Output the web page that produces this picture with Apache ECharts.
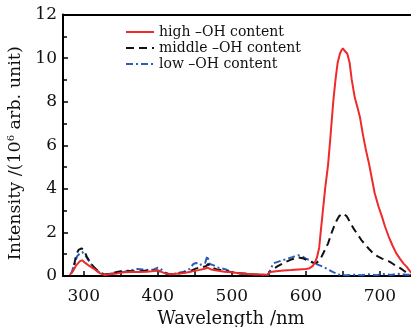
<!DOCTYPE html>
<html>
<head>
<meta charset="utf-8">
<script src="https://cdn.jsdelivr.net/npm/echarts@6/dist/echarts.min.js"></script>
<style>html,body{margin:0;padding:0;background:#fff}#c{width:411px;height:327px}</style>
</head>
<body>
<div id="c"></div>
<script>
const seriesNames = ['high \u2013OH content', 'middle \u2013OH content', 'low \u2013OH content'];
const xTickLabels = [300, 400, 500, 600, 700];
const xTickMarks = [300, 350, 400, 450, 500, 550, 600, 650, 700];
const highOH = [[281,0.05],[285,0.2],[290,0.5],[295,0.68],[298,0.72],[302,0.6],[308,0.45],[315,0.3],[322,0.12],[328,0.05],[335,0.08],[345,0.12],[355,0.17],[365,0.18],[375,0.18],[385,0.2],[392,0.22],[398,0.27],[404,0.2],[410,0.12],[416,0.08],[425,0.1],[435,0.14],[445,0.2],[455,0.27],[462,0.32],[467,0.38],[472,0.3],[480,0.25],[490,0.2],[500,0.17],[510,0.13],[520,0.1],[530,0.08],[540,0.07],[548,0.06],[552,0.18],[560,0.22],[570,0.25],[580,0.27],[590,0.3],[600,0.32],[605,0.36],[609,0.45],[612,0.6],[615,0.85],[618,1.3],[620,2.0],[623,3.0],[626,4.0],[630,5.1],[633,6.3],[637,8.0],[640,9.0],[643,9.8],[646,10.2],[648,10.35],[650,10.45],[652,10.35],[654,10.4],[656,10.2],[659,9.8],[662,9.0],[666,8.2],[670,7.7],[673,7.3],[677,6.5],[681,5.8],[685,5.2],[689,4.5],[693,3.8],[698,3.2],[703,2.7],[707,2.26],[712,1.8],[717,1.4],[722,1.05],[727,0.8],[732,0.57],[736,0.43],[740,0.25],[742,0.15]];
const middleOH = [[287,0.5],[290,1.0],[293,1.2],[297,1.27],[300,1.2],[304,0.9],[308,0.65],[314,0.4],[320,0.2],[327,0.07],[335,0.1],[345,0.18],[355,0.25],[365,0.22],[375,0.22],[385,0.25],[395,0.25],[400,0.25],[408,0.15],[415,0.08],[425,0.1],[435,0.15],[445,0.25],[452,0.35],[460,0.4],[465,0.45],[468,0.55],[472,0.4],[480,0.3],[490,0.25],[500,0.17],[510,0.13],[520,0.1],[530,0.07],[540,0.05],[548,0.05],[555,0.3],[562,0.45],[570,0.6],[580,0.75],[590,0.85],[597,0.8],[603,0.7],[610,0.6],[615,0.62],[620,0.8],[625,1.15],[630,1.5],[635,2.0],[640,2.45],[645,2.75],[650,2.87],[655,2.75],[660,2.45],[665,2.15],[670,1.9],[675,1.65],[680,1.45],[685,1.25],[691,1.04],[697,0.9],[703,0.8],[708,0.72],[713,0.66],[718,0.55],[723,0.45],[728,0.35],[732,0.25],[736,0.15],[740,0.08],[742,0.05]];
const lowOH = [[283,0.1],[287,0.5],[291,0.9],[295,1.05],[298,1.1],[301,1.0],[305,0.8],[310,0.55],[316,0.3],[322,0.15],[328,0.07],[335,0.1],[345,0.15],[355,0.2],[365,0.28],[372,0.32],[380,0.3],[388,0.27],[395,0.3],[400,0.38],[405,0.3],[410,0.15],[416,0.08],[425,0.12],[435,0.2],[442,0.3],[448,0.55],[452,0.6],[456,0.5],[460,0.55],[464,0.6],[467,0.92],[470,0.55],[475,0.5],[480,0.4],[486,0.35],[492,0.3],[498,0.2],[505,0.15],[515,0.1],[525,0.08],[535,0.06],[545,0.05],[549,0.05],[553,0.35],[556,0.58],[562,0.65],[569,0.73],[576,0.8],[583,0.88],[590,0.95],[595,0.9],[600,0.8],[605,0.73],[610,0.62],[616,0.52],[623,0.43],[630,0.3],[637,0.18],[642,0.1],[646,0.05],[655,0.03],[665,0.06],[675,0.03],[685,0.08],[695,0.04],[705,0.09],[715,0.05],[725,0.1],[735,0.06],[742,0.05]];

const FONT = 'DejaVu Serif';
const chart = echarts.init(document.getElementById('c'), null, {renderer: 'canvas'});
chart.setOption({
  animation: false,
  backgroundColor: '#fff',
  grid: {left: 63, top: 14.5, right: 0, bottom: 51, show: false, containLabel: false, outerBoundsMode: 'none'},
  legend: {
    data: seriesNames, orient: 'vertical', left: 125, top: 25, padding: 0,
    itemWidth: 28, itemHeight: 14, itemGap: 2,
    itemStyle: {opacity: 0},
    textStyle: {fontFamily: FONT, fontSize: 14, color: '#111'}
  },
  xAxis: [{
    type: 'value', min: 272, max: 742,
    axisLine: {show: true, lineStyle: {color: '#000', width: 2}},
    axisTick: {show: true, inside: true, length: 5, lineStyle: {color: '#000', width: 1.5}, customValues: xTickMarks},
    axisLabel: {fontFamily: FONT, fontSize: 17, color: '#111', margin: 12, customValues: xTickLabels},
    splitLine: {show: false},
    name: 'Wavelength /nm', nameLocation: 'middle', nameGap: 33,
    nameTextStyle: {fontFamily: FONT, fontSize: 18, color: '#111', padding: [0, 12, 0, 0]}
  }, {
    type: 'value', position: 'top', min: 272, max: 742,
    axisLine: {show: true, onZero: false, lineStyle: {color: '#000', width: 2}},
    axisTick: {show: false}, axisLabel: {show: false}, splitLine: {show: false}
  }],
  yAxis: {
    type: 'value', min: 0, max: 12, interval: 2,
    axisLine: {show: true, lineStyle: {color: '#000', width: 2}},
    axisTick: {show: true, inside: true, length: 5, lineStyle: {color: '#000', width: 1.5}},
    minorTick: {show: true, splitNumber: 2, length: 4, lineStyle: {color: '#000', width: 1.5}},
    axisLabel: {fontFamily: FONT, fontSize: 17, color: '#111', margin: 6},
    splitLine: {show: false},
    name: 'Intensity /(10{sup|6} arb. unit)', nameLocation: 'middle', nameGap: 38,
    nameTextStyle: {fontFamily: FONT, fontSize: 17.5, color: '#111', padding: [0, 16, 0, 0],
      rich: {sup: {fontFamily: FONT, fontSize: 10, color: '#111', verticalAlign: 'top', padding: [0,0,8,0]}}}
  },
  series: [
    {name: seriesNames[0], type: 'line', data: highOH, symbol: 'none', lineStyle: {color: '#ee2a2a', width: 2}, itemStyle: {color: '#ee2a2a'}, z: 3},
    {name: seriesNames[1], type: 'line', data: middleOH, symbol: 'none', lineStyle: {color: '#111', width: 2, type: [8, 5]}, itemStyle: {color: '#111'}, z: 2},
    {name: seriesNames[2], type: 'line', data: lowOH, symbol: 'none', lineStyle: {color: '#2a5cba', width: 2, type: [7, 3, 2, 3]}, itemStyle: {color: '#2a5cba'}, z: 1}
  ]
});
</script>
</body>
</html>
